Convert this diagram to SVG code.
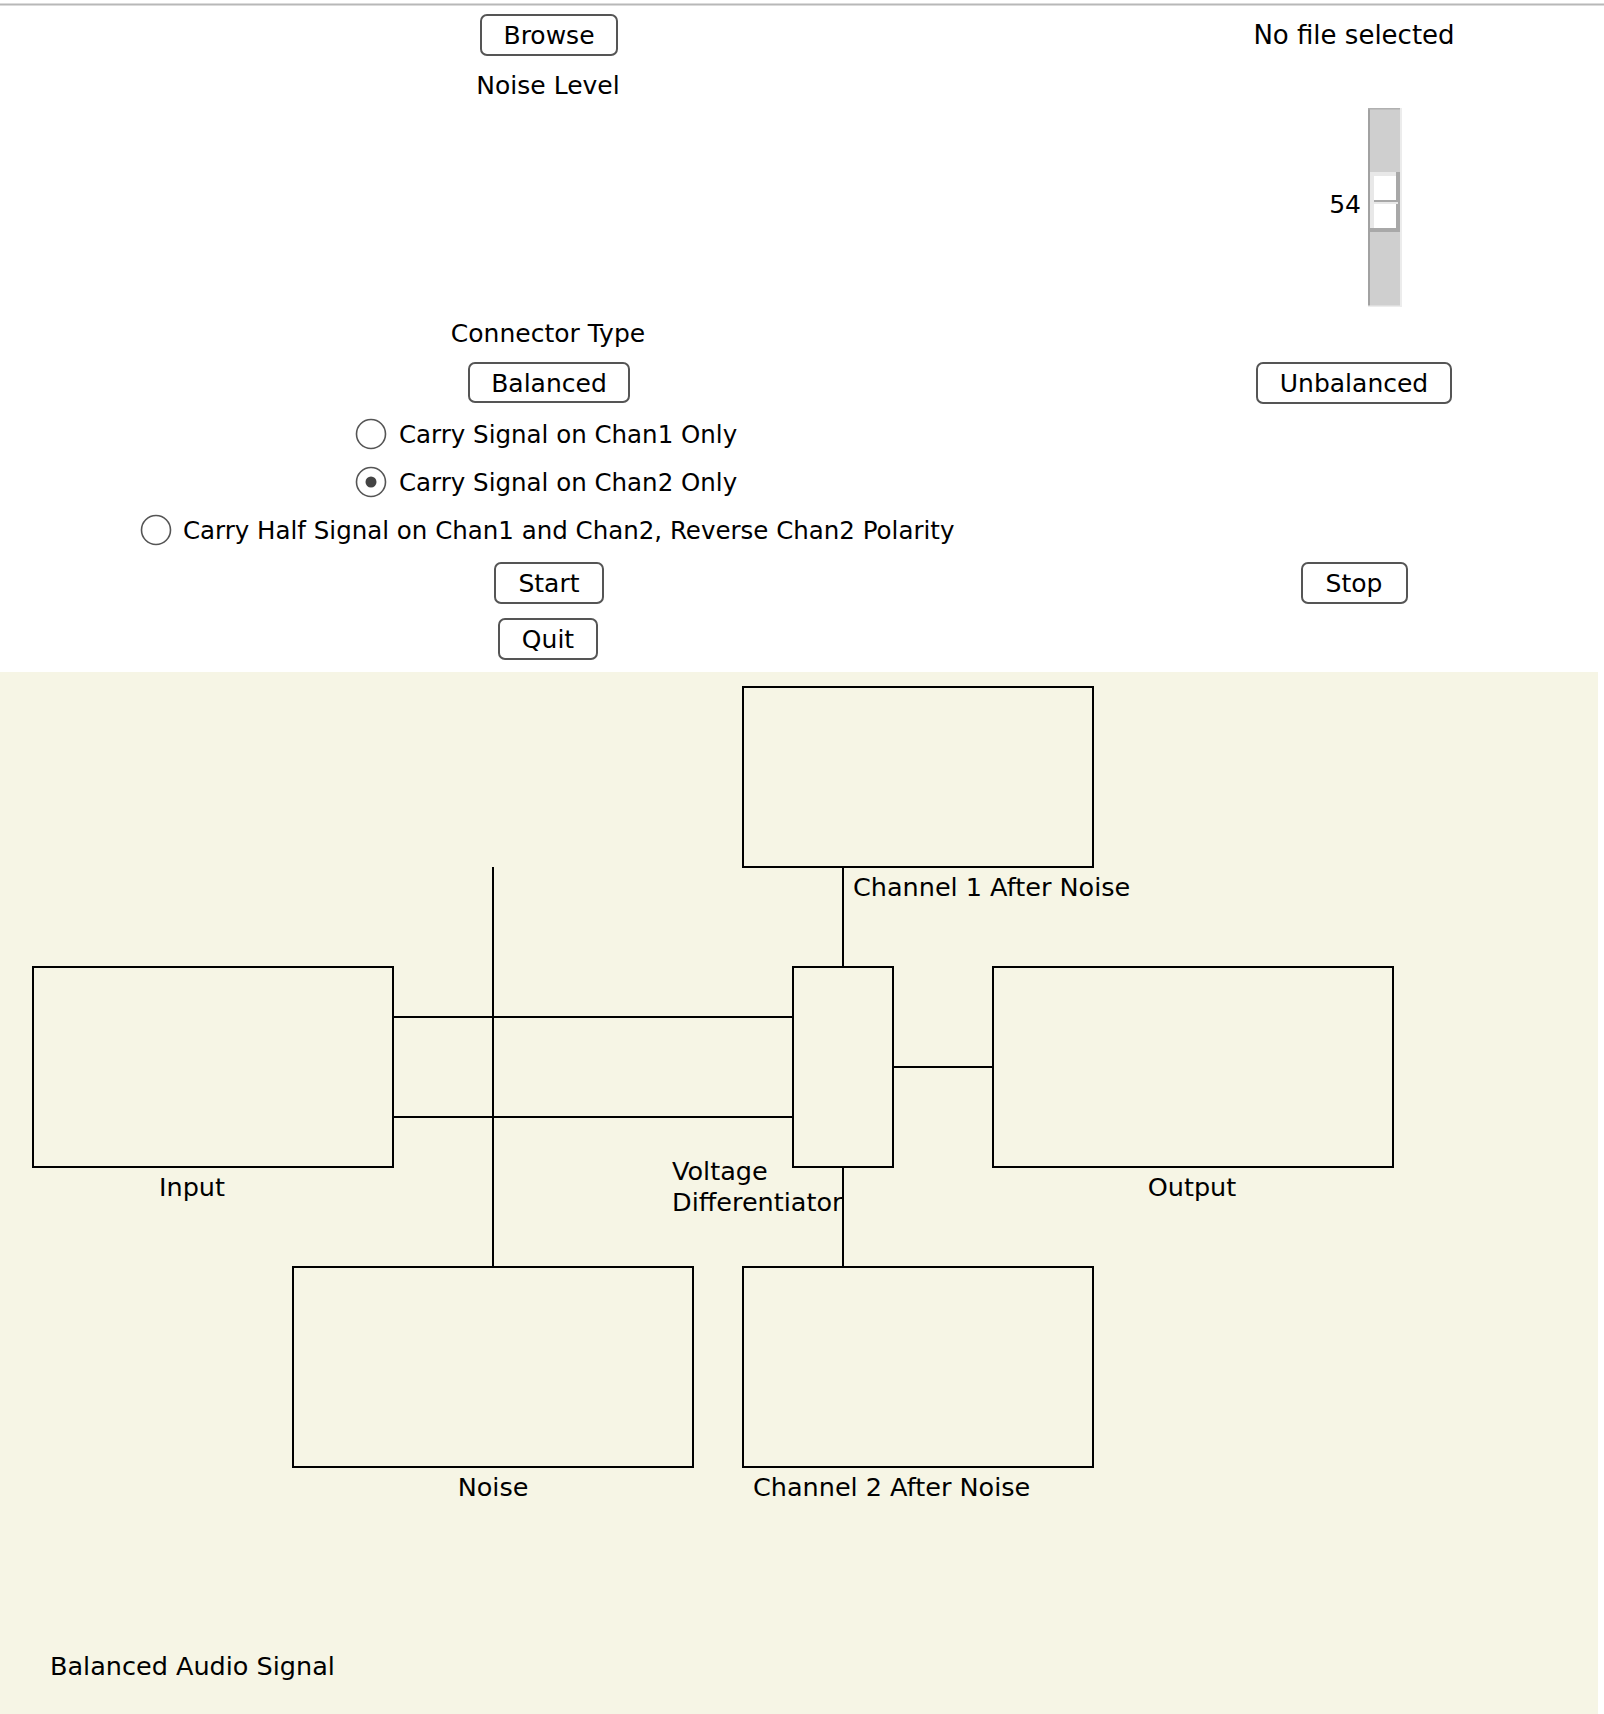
<svg xmlns="http://www.w3.org/2000/svg" width="1604" height="1714" viewBox="0 0 1604 1714">
<style>
text{font-family:"DejaVu Sans","Liberation Sans",Arial,sans-serif;fill:#000}
.ui{font-size:25px}
.rad{font-size:24.5px}
.lbl{font-size:25.5px}
.mid{text-anchor:middle}
.btn{fill:#fff;stroke:#555;stroke-width:2}
.radio{fill:#fff;stroke:#555;stroke-width:1.6}
.box{fill:none;stroke:#000;stroke-width:2}
.wire{stroke:#000;stroke-width:2;fill:none}
</style>
<rect x="0" y="0" width="1604" height="1714" fill="#fff"/>
<line x1="0" y1="4.5" x2="1604" y2="4.5" stroke="#b8b8b8" stroke-width="2"/>
<g id="controls">
<g id="browse"><rect class="btn" x="481" y="15" width="136" height="40" rx="6"/><text class="ui mid" x="549" y="44">Browse</text></g>
<text id="file-status" class="ui mid" x="1354" y="44" style="font-size:26px">No file selected</text>
<text id="noise-level" class="ui mid" x="548" y="94">Noise Level</text>
<g id="slider">
<rect x="1368" y="108" width="34" height="199" fill="#cfcfcf"/>
<rect x="1368" y="108" width="2" height="199" fill="#a2a2a2"/>
<rect x="1368" y="108" width="34" height="1.5" fill="#b0b0b0"/>
<rect x="1400" y="108" width="2" height="199" fill="#ececec"/>
<rect x="1368" y="305.5" width="34" height="1.5" fill="#ececec"/>
<rect x="1370" y="172" width="30" height="60" fill="#a8a8a8"/>
<rect x="1370" y="172" width="26" height="56" fill="#e8e8e8"/>
<rect x="1374" y="176" width="22" height="52" fill="#fff"/>
<rect x="1374" y="200" width="24" height="2" fill="#a8a8a8"/>
<rect x="1374" y="202" width="24" height="2" fill="#e8e8e8"/>
<text class="ui" x="1361" y="213" text-anchor="end">54</text>
</g>
<text id="connector-type" class="ui mid" x="548" y="342">Connector Type</text>
<g id="balanced"><rect class="btn" x="469" y="363" width="160" height="39" rx="6"/><text class="ui mid" x="549" y="392">Balanced</text></g>
<g id="unbalanced"><rect class="btn" x="1257" y="363" width="194" height="40" rx="6"/><text class="ui mid" x="1354" y="392">Unbalanced</text></g>
<g id="radio1"><circle class="radio" cx="371" cy="434" r="14.5"/><text class="rad" x="399" y="443">Carry Signal on Chan1 Only</text></g>
<g id="radio2"><circle class="radio" cx="371" cy="482" r="14.5"/><circle cx="371" cy="482" r="5.5" fill="#444"/><text class="rad" x="399" y="491">Carry Signal on Chan2 Only</text></g>
<g id="radio3"><circle class="radio" cx="156" cy="530" r="14.5"/><text class="rad" x="183" y="539">Carry Half Signal on Chan1 and Chan2, Reverse Chan2 Polarity</text></g>
<g id="start"><rect class="btn" x="495" y="563" width="108" height="40" rx="6"/><text class="ui mid" x="549" y="592">Start</text></g>
<g id="stop"><rect class="btn" x="1302" y="563" width="105" height="40" rx="6"/><text class="ui mid" x="1354" y="592">Stop</text></g>
<g id="quit"><rect class="btn" x="499" y="619" width="98" height="40" rx="6"/><text class="ui mid" x="548" y="648">Quit</text></g>
</g>
<rect x="0" y="672" width="1598" height="1042" fill="#f6f5e5"/>
<g id="connectors">
<line class="wire" x1="843" y1="867" x2="843" y2="967"/>
<line class="wire" x1="493" y1="867" x2="493" y2="1267"/>
<line class="wire" x1="393" y1="1017" x2="793" y2="1017"/>
<line class="wire" x1="393" y1="1117" x2="793" y2="1117"/>
<line class="wire" x1="893" y1="1067" x2="993" y2="1067"/>
<line class="wire" x1="843" y1="1167" x2="843" y2="1267"/>
</g>
<g id="ch1"><rect class="box" x="743" y="687" width="350" height="180"/><text class="lbl" x="853" y="896">Channel 1 After Noise</text></g>
<g id="input"><rect class="box" x="33" y="967" width="360" height="200"/><text class="lbl mid" x="192" y="1196">Input</text></g>
<g id="vd"><rect class="box" x="793" y="967" width="100" height="200"/><text class="lbl" x="672" y="1180">Voltage</text><text class="lbl" x="672" y="1211">Differentiator</text></g>
<g id="output"><rect class="box" x="993" y="967" width="400" height="200"/><text class="lbl mid" x="1192" y="1196">Output</text></g>
<g id="noise"><rect class="box" x="293" y="1267" width="400" height="200"/><text class="lbl mid" x="493" y="1496">Noise</text></g>
<g id="ch2"><rect class="box" x="743" y="1267" width="350" height="200"/><text class="lbl" x="753" y="1496">Channel 2 After Noise</text></g>
<text id="title" class="lbl" x="50" y="1675">Balanced Audio Signal</text>
</svg>
